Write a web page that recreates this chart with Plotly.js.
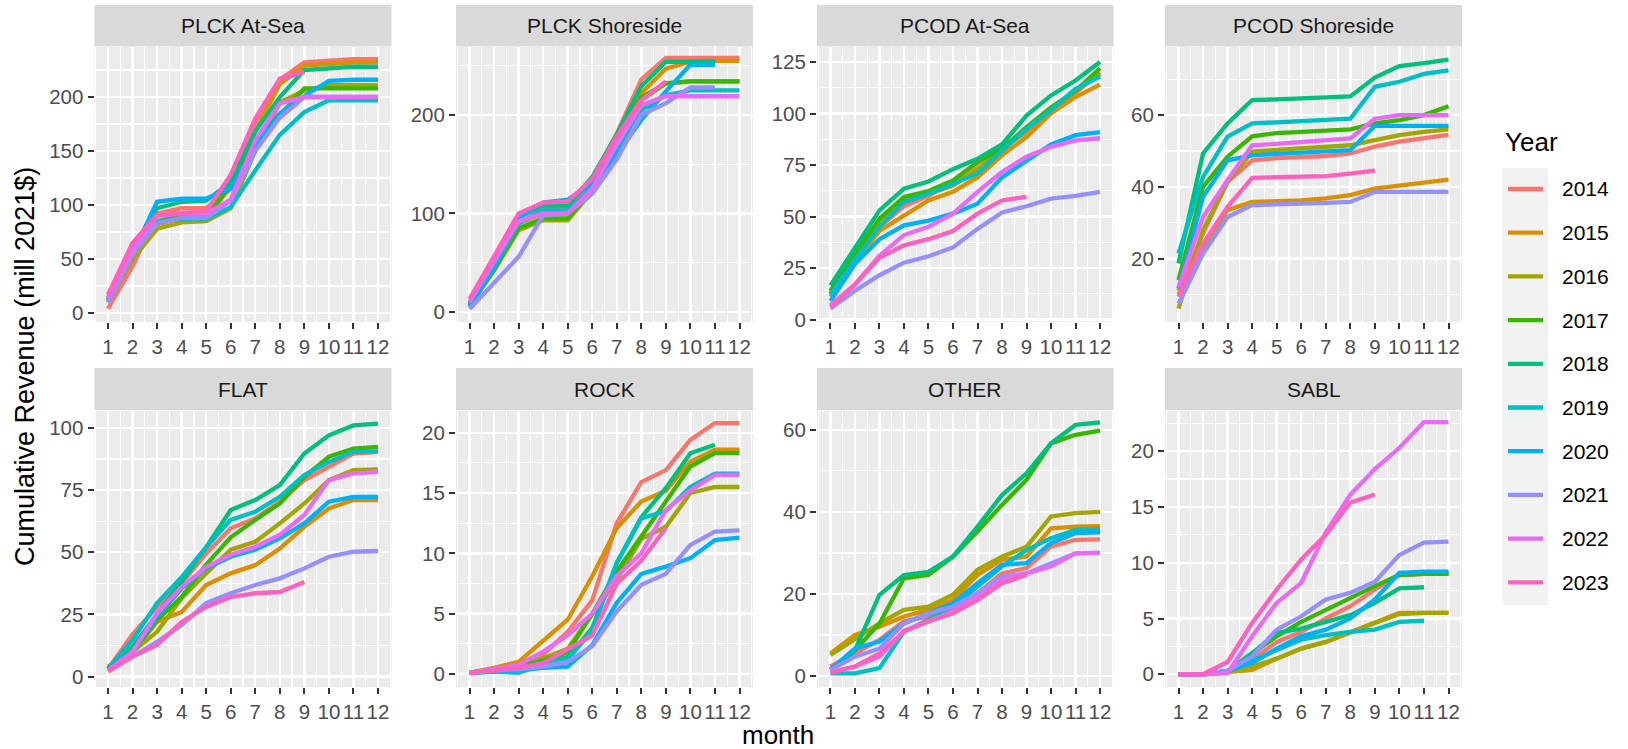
<!DOCTYPE html>
<html><head><meta charset="utf-8">
<script src="https://cdn.plot.ly/plotly-3.0.1.min.js"></script>
<style>html,body{margin:0;padding:0;background:#fff}#chart{width:1628px;height:749px}</style>
</head><body><div id="chart"></div>
<script>
const years = ['2014','2015','2016','2017','2018','2019','2020','2021','2022','2023'];
const months = [1,2,3,4,5,6,7,8,9,10,11,12];
const monthLabels = ['1','2','3','4','5','6','7','8','9','10','11','12'];
const colors = ['#F8766D','#D89000','#A3A500','#39B600','#00BF7D','#00BFC4','#00B0F6','#9590FF','#E76BF3','#FF62BC'];
const panelNames = ['PLCK At-Sea','PLCK Shoreside','PCOD At-Sea','PCOD Shoreside','FLAT','ROCK','OTHER','SABL'];
const N = null;

const plckAtSea = [
 [4,43,92,97,97,115,177,216,232,234,235,235],
 [10,52,82,88,88,117,168,212,229,231,232,232],
 [11,50,78,84,85,97,150,195,206,211,211,211],
 [12,55,85,90,90,118,160,183,208,208,208,208],
 [14,58,97,103,104,121,168,200,225,227,228,228],
 [12,55,85,87,87,98,132,165,186,197,197,197],
 [10,55,103,106,106,115,154,185,201,215,216,216],
 [10,54,83,88,88,104,150,181,200,200,200,200],
 [14,58,90,92,92,105,160,194,200,200,200,200],
 [17,65,91,93,94,128,180,217,223,N,N,N]
];
const plckShoreside = [
 [8,45,97,105,107,135,181,236,258,258,258,258],
 [7,44,90,100,100,125,175,222,247,254,255,255],
 [6,42,83,93,93,122,168,215,232,234,234,234],
 [6,43,85,95,95,125,170,218,232,234,234,234],
 [9,47,97,108,108,137,180,229,254,254,254,N],
 [8,45,90,103,103,127,165,205,220,225,225,225],
 [5,45,95,111,114,130,160,195,224,251,251,N],
 [3,29,56,98,100,120,155,200,212,228,228,N],
 [10,50,92,100,100,125,170,210,219,219,219,219],
 [13,56,100,111,112,135,178,215,234,N,N,N]
];
const pcodAtSea = [
 [12,30,45,55,60,67,75.6,83,91,101,110,120],
 [11,28,43,50.6,57.8,62,69,79.7,88.6,100,108,114],
 [13,31,48,58,61,65,73,82,92,102,111,119],
 [14,32,49,59.5,62.4,67.5,76.5,83,93.4,103,111,122],
 [16.6,35,53,63.5,67,73,78,85,99,108.8,116,125],
 [12,29,45,57,61,66,70.8,82,92.6,101.6,112,118],
 [9,27,39,45.7,48,51.4,56.2,69,77,85,89.5,91],
 [5.3,14,21.5,27.6,30.7,35,44,52,55,58.7,60,62],
 [7,17,31,41,45,51.4,62,71.6,79,83.8,87,88],
 [6,17,30,36,39,43,51.4,57.8,59.6,N,N,N]
];
const pcodShoreside = [
 [11,27,41.4,47.4,48,48.3,48.6,49.3,51.2,52.6,53.5,54.5],
 [10,23,33.5,35.8,36,36.2,36.8,37.7,39.5,40.5,41.2,42],
 [6,28,41.4,49.8,50.3,50.7,51.1,51.6,53,54.4,55.3,56],
 [14,40,48.4,54.1,55,55.3,55.5,56,57.7,58.6,60,62.5],
 [18.6,49.3,57.7,64.2,64.4,64.7,65,65.2,70.5,73.7,74.5,75.5],
 [21.4,42.8,54,57.7,58,58.3,58.6,59,67.9,69.3,71.5,72.5],
 [11.6,37.2,47.4,48.8,49.2,49.5,49.8,50.2,57,57,57,57],
 [7.4,21.4,31.6,34.9,35.1,35.2,35.5,35.8,38.6,38.6,38.6,38.6],
 [12,31.6,41.9,51.6,52,52.4,52.9,53.5,59,60,60,60],
 [9.3,24.2,34.4,42.5,42.7,42.8,43,43.7,44.5,N,N,N]
];
const flat = [
 [3,17,28,37.5,49.5,59.6,63.6,70.3,79,84.3,89.7,90.4],
 [3,10,22,26,36.8,41.5,44.8,51.5,60.2,67.6,71,71],
 [4,10,18,31.5,41.5,51,54.2,61.6,69.6,79,83,83.3],
 [3,10,22.8,32,45,56,63,69.6,80.3,88.4,91.7,92.4],
 [3,12,25,38,52,67,71,77,89.7,97,101,101.7],
 [3,14.7,29.5,40,52,63,66.3,72.3,81,86.3,90.4,90.6],
 [2.5,10,24,35.5,43.5,48.2,51,55.6,61.6,70.3,72.3,72.3],
 [2.5,8,14,20.7,29.5,33.5,36.8,39.5,43.5,48.2,50.2,50.5],
 [2.5,10,25.4,36,44,49,52.2,57,65,79,81.7,82.3],
 [2,8,12.7,22,28,32,33.5,34,38,N,N,N]
];
const rock = [
 [0.1,0.4,0.75,1.6,3.5,6.1,12.5,15.9,16.9,19.4,20.8,20.8],
 [0.1,0.5,1.0,2.7,4.5,8.1,12.1,14.3,15.2,17.6,18.6,18.6],
 [0.1,0.4,0.6,1.3,2.1,5.0,7.8,11.2,12.2,15.0,15.5,15.5],
 [0.1,0.4,0.6,1.1,1.8,5.0,8.5,11.4,14.4,17.2,18.3,18.3],
 [0.1,0.3,0.5,1.0,1.4,3.8,9.2,13.0,15.4,18.3,19.0,N],
 [0.1,0.2,0.1,0.8,1.2,3.6,9.2,12.9,13.5,15.5,16.6,16.6],
 [0.1,0.2,0.3,0.5,0.6,2.4,5.9,8.3,8.9,9.6,11.1,11.3],
 [0.1,0.3,0.4,0.6,1.0,2.3,5.2,7.4,8.3,10.7,11.8,11.9],
 [0.1,0.4,0.75,1.85,3.2,5.0,8.1,10.0,13.6,15.2,16.5,16.5],
 [0.1,0.3,0.5,0.9,2.0,3.2,7.5,9.4,12.1,N,N,N]
];
const other = [
 [2.3,5.5,8.8,13.3,14.5,16.1,20.2,25,26.3,31.5,33.2,33.3],
 [5.5,10,12,14.5,16.1,18.5,24.6,28.3,29.1,36,36.4,36.5],
 [5.1,8.8,12.8,16.1,16.9,19.8,25.9,29.1,31.5,38.9,39.7,40],
 [1.5,6.3,12.8,23.8,24.6,29.1,35.2,41.7,47.8,56.7,58.8,59.8],
 [1.5,6.3,19.8,24.6,25.4,29.1,36.4,44.1,49.4,56.7,61.2,61.8],
 [0.6,0.6,1.9,10.8,13.7,16.9,21.8,26.7,30.7,33.6,35.6,35.8],
 [1.5,6.7,8.4,12.8,15.3,17.7,22.6,27.1,27.5,32.4,34.8,35],
 [1.5,4.7,6.7,12.8,15.3,16.9,20.2,24.2,25,27.5,29.9,30],
 [0.8,2.3,4.7,11,13.3,15.7,19.3,23.4,25,26.7,29.9,30],
 [0.8,2.3,5.5,10.8,13.3,15.3,18.5,22.6,24.6,N,N,N]
];
const sabl = [
 [0,0,0.3,1.3,2.9,3.8,5.0,6.1,7.6,8.9,9.0,9.0],
 [0,0,0.2,0.4,1.4,2.3,2.9,3.8,4.6,5.5,5.5,5.5],
 [0,0,0.2,0.7,1.4,2.3,2.9,3.8,4.6,5.4,5.5,5.5],
 [0,0,0.3,1.9,3.4,4.7,5.8,6.8,7.9,8.9,9.0,9.0],
 [0,0,0.3,1.9,3.7,4.1,4.7,5.3,6.4,7.7,7.8,N],
 [0,0,0.3,1.2,2.2,3.1,3.5,3.8,4.0,4.7,4.8,N],
 [0,0,0.3,1.0,2.3,3.4,4.0,5.0,6.7,9.1,9.2,9.2],
 [0,0,0.3,1.6,4.0,5.2,6.7,7.3,8.3,10.7,11.8,11.9],
 [0,0,0.1,3.4,6.4,8.2,12.7,16.1,18.4,20.3,22.6,22.6],
 [0,0,1.1,4.6,7.6,10.3,12.5,15.4,16.1,N,N,N]
];
const panelData = [plckAtSea, plckShoreside, pcodAtSea, pcodShoreside, flat, rock, other, sabl];

// axis configuration (layout only)
const yRanges = [[-8.3,246.3],[-10.2,269],[-1.2,132.3],[2.3,79],[-4.2,106.8],[-1.08,21.8],[-2.7,64.6],[-1.14,23.6]];
const yDticks = [50,100,25,20,25,5,20,5];

const W = 1628, H = 749;
const fx = v => v / W, fy = v => 1 - v / H;
const cols = [[94.5,391.5],[456,753],[817,1113.5],[1165,1462]];
const rows = [[47,322],[411,687]];
const strips = [[5,46.5],[368,410]];
const FONT = 'Liberation Sans, Arial, Helvetica, sans-serif';

const traces = [];
const layout = {
  width: W, height: H,
  margin: {l:0, r:0, t:0, b:0},
  paper_bgcolor: '#FFFFFF',
  plot_bgcolor: '#EBEBEB',
  showlegend: false,
  font: {family: FONT, color: '#4D4D4D', size: 20.5},
  shapes: [], annotations: []
};

panelData.forEach((pd, p) => {
  const c = p % 4, r = Math.floor(p / 4);
  const ax = p + 1;
  const xa = 'xaxis' + (ax === 1 ? '' : ax), ya = 'yaxis' + (ax === 1 ? '' : ax);
  const xr = 'x' + (ax === 1 ? '' : ax), yr = 'y' + (ax === 1 ? '' : ax);
  layout[xa] = {
    domain: [fx(cols[c][0]), fx(cols[c][1])], anchor: yr,
    range: [0.45, 12.55], tickmode: 'array', tickvals: months, ticktext: monthLabels,
    showgrid: true, gridcolor: '#FFFFFF', gridwidth: 2.4, zeroline: false, showline: false,
    ticks: 'outside', ticklen: 6, tickwidth: 2, tickcolor: '#333333',
    tickfont: {family: FONT, size: 20.5, color: '#4D4D4D'},
    minor: {tick0: 0.5, dtick: 1, showgrid: true, gridcolor: '#FFFFFF', gridwidth: 1.2, ticks: ''},
    fixedrange: true
  };
  layout[ya] = {
    domain: [fy(rows[r][1]), fy(rows[r][0])], anchor: xr,
    range: yRanges[p], tick0: 0, dtick: yDticks[p],
    showgrid: true, gridcolor: '#FFFFFF', gridwidth: 2.4, zeroline: false, showline: false,
    ticks: 'outside', ticklen: 6, tickwidth: 2, tickcolor: '#333333',
    tickfont: {family: FONT, size: 20.5, color: '#4D4D4D'},
    minor: {tick0: yDticks[p] / 2, dtick: yDticks[p], showgrid: true, gridcolor: '#FFFFFF', gridwidth: 1.2, ticks: ''},
    fixedrange: true
  };
  pd.forEach((vals, i) => {
    traces.push({
      type: 'scatter', mode: 'lines', x: months, y: vals, xaxis: xr, yaxis: yr,
      name: years[i], line: {color: colors[i], width: 4.3}, connectgaps: false,
      hoverinfo: 'x+y+name'
    });
  });
  // strip
  layout.shapes.push({type: 'rect', xref: 'paper', yref: 'paper',
    x0: fx(cols[c][0]), x1: fx(cols[c][1]), y0: fy(strips[r][1]), y1: fy(strips[r][0]),
    fillcolor: '#D9D9D9', line: {width: 0}, layer: 'below'});
  layout.annotations.push({xref: 'paper', yref: 'paper', x: fx((cols[c][0] + cols[c][1]) / 2),
    y: fy((strips[r][0] + strips[r][1]) / 2), xanchor: 'center', yanchor: 'middle',
    text: panelNames[p], showarrow: false, font: {family: FONT, size: 21, color: '#1A1A1A'}});
});

// axis titles
layout.annotations.push({xref: 'paper', yref: 'paper', x: fx(778), y: fy(734.5), xanchor: 'center', yanchor: 'middle',
  text: 'month', showarrow: false, borderpad: 0, font: {family: FONT, size: 26, color: '#000000'}});
layout.annotations.push({xref: 'paper', yref: 'paper', x: fx(25), y: fy(367), xanchor: 'center', yanchor: 'middle',
  text: 'Cumulative Revenue (mill 2021$)', textangle: -90, showarrow: false, font: {family: FONT, size: 27, color: '#000000'}});

// legend (drawn manually to match ggplot key layout)
layout.shapes.push({type: 'rect', xref: 'paper', yref: 'paper', x0: fx(1503), x1: fx(1548), y0: fy(605), y1: fy(168),
  fillcolor: '#F2F2F2', line: {width: 0}});
layout.annotations.push({xref: 'paper', yref: 'paper', x: fx(1503), y: fy(142), xanchor: 'left', yanchor: 'middle',
  text: 'Year', showarrow: false, font: {family: FONT, size: 26, color: '#000000'}});
years.forEach((yv, i) => {
  const yy = 189 + 43.7 * i;
  layout.shapes.push({type: 'line', xref: 'paper', yref: 'paper', x0: fx(1508), x1: fx(1543), y0: fy(yy), y1: fy(yy),
    line: {color: colors[i], width: 4.3}});
  layout.annotations.push({xref: 'paper', yref: 'paper', x: fx(1560), y: fy(yy), xanchor: 'left', yanchor: 'middle',
    text: yv, showarrow: false, font: {family: FONT, size: 21, color: '#000000'}});
});

Plotly.newPlot('chart', traces, layout, {displayModeBar: false, staticPlot: true});
</script>
</body></html>
